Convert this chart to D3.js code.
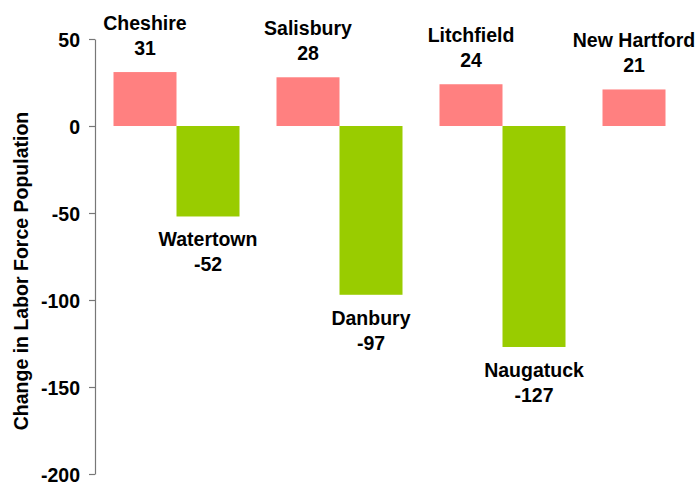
<!DOCTYPE html>
<html>
  <head>
    <meta charset="utf-8">
    <title>Change in Labor Force Population</title>
    <style>
      body { margin: 0; background: #fff; }
      text {
        font-family: "Liberation Sans", Arial, sans-serif;
        font-weight: bold;
        fill: #000;
      }
    </style>
  </head>
  <body>
    <div id="chart"></div>

    <script src="https://cdnjs.cloudflare.com/ajax/libs/d3/7.8.5/d3.min.js"></script>
    <script>
      // towns that gained / lost labor force, paired by group
      const gainTowns = ['Cheshire', 'Salisbury', 'Litchfield', 'New Hartford'];
      const gainValues = [31, 28, 24, 21];
      const lossTowns = ['Watertown', 'Danbury', 'Naugatuck'];
      const lossValues = [-52, -97, -127];
      const yTicks = [50, 0, -50, -100, -150, -200];

      const width = 697, height = 485;
      const axisX = 95;

      const svg = d3.select('#chart')
        .append('svg')
        .attr('width', width)
        .attr('height', height);

      let groups = d3.range(gainTowns.length);

      // 4th group runs off the right edge, as in the source
      let x0 = d3.scaleBand()
        .domain(groups)
        .range([axisX, axisX + 4 * 163])
        .paddingInner(0.227)
        .paddingOuter(0.1135);

      let x1 = d3.scaleBand()
        .domain(['gain', 'loss'])
        .range([0, x0.bandwidth()]);

      let y = d3.scaleLinear()
        .domain([-200, 50])
        .range([474, 39]);

      // bars
      let bars = svg.append('g');

      bars.selectAll('rect.gain')
        .data(gainValues)
        .enter()
        .append('rect')
        .attr('class', 'gain')
        .attr('x', (d, i) => x0(i) + x1('gain'))
        .attr('y', d => y(d))
        .attr('width', x1.bandwidth())
        .attr('height', d => y(0) - y(d))
        .attr('fill', '#FF8080');

      bars.selectAll('rect.loss')
        .data(lossValues)
        .enter()
        .append('rect')
        .attr('class', 'loss')
        .attr('x', (d, i) => x0(i) + x1('loss'))
        .attr('y', y(0))
        .attr('width', x1.bandwidth())
        .attr('height', d => y(d) - y(0))
        .attr('fill', '#99CC00');

      // y axis (plain hyphen for negatives, like the original)
      let yAxis = svg.append('g')
        .attr('transform', `translate(${axisX},0)`)
        .call(d3.axisLeft(y)
          .tickValues(yTicks)
          .tickFormat(d => String(d))
          .tickSize(6)
          .tickPadding(9)
          .tickSizeOuter(0));

      yAxis.selectAll('path, line')
        .attr('stroke', '#777')
        .attr('stroke-width', 1.2);
      yAxis.selectAll('text')
        .style('font-size', '19.5px')
        .attr('dy', '0.36em');

      // labels
      let labels = svg.append('g')
        .attr('text-anchor', 'middle')
        .style('font-size', '19.5px');

      gainTowns.forEach((town, i) => {
        let cx = x0(i) + x1('gain') + x1.bandwidth() / 2;
        if (cx + 62 > width) cx = width - 66;
        let top = y(gainValues[i]);
        labels.append('text').attr('x', cx).attr('y', top - 42).text(town);
        labels.append('text').attr('x', cx).attr('y', top - 17).text(gainValues[i]);
      });

      lossTowns.forEach((town, i) => {
        let cx = x0(i) + x1('loss') + x1.bandwidth() / 2;
        let bottom = y(lossValues[i]);
        labels.append('text').attr('x', cx).attr('y', bottom + 30).text(town);
        labels.append('text').attr('x', cx).attr('y', bottom + 55).text(lossValues[i]);
      });

      // axis title
      svg.append('text')
        .attr('transform', 'translate(28,271) rotate(-90)')
        .attr('text-anchor', 'middle')
        .style('font-size', '19.5px')
        .text('Change in Labor Force Population');
    </script>
  </body>
</html>
